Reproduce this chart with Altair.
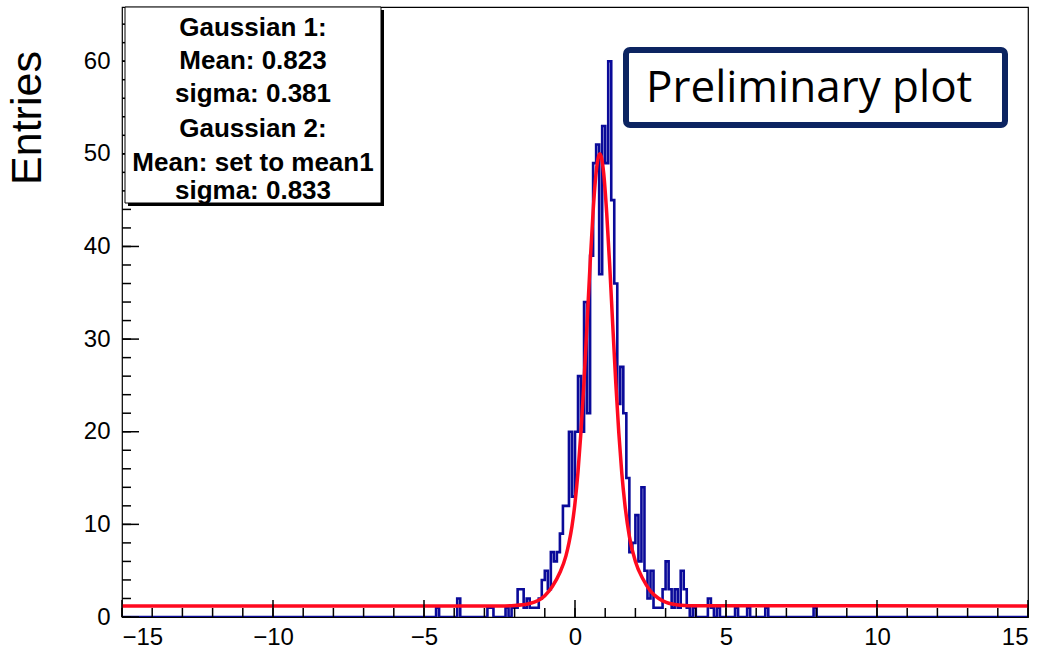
import altair as alt
import pandas as pd

# ---------------- data ----------------
# histogram: bins of width 0.1, first non-empty bin starts at -4.6
bin_width = 0.1
first_edge = -4.6
counts = [
    1, 0, 0, 0, 0, 0, 0, 2, 0, 0,          # -4.6 .. -3.7
    0, 0, 0, 0, 0, 0, 0, 1, 1, 0,          # -3.6 .. -2.7
    0, 0, 0, 1, 0, 1, 1, 3, 3, 1,          # -2.6 .. -1.7
    2, 1, 1, 1, 2, 4, 5, 3, 7, 6,          # -1.6 .. -0.7
    7, 9, 12, 12, 20, 13, 20, 26, 20, 34,  # -0.6 .. 0.3
    22, 39, 49, 51, 37, 53, 49, 60, 45, 36,  # 0.4 .. 1.3
    23, 27, 22, 15, 7, 8, 11, 6, 14, 5,    # 1.4 .. 2.3
    2, 5, 1, 1, 1, 3, 6, 3, 1, 3,          # 2.4 .. 3.3
    1, 5, 3, 1, 0, 1, 0, 0, 0, 0,          # 3.4 .. 4.3
    2, 1, 0, 1, 0, 0, 0, 0, 0, 1,          # 4.4 .. 5.3
    0, 0, 0, 1, 0, 0, 0, 0, 0, 1,          # 5.4 .. 6.3
    0, 0, 0, 0, 0, 0, 0, 0, 0, 0,          # 6.4 .. 7.3
    0, 0, 0, 0, 0, 1,                      # 7.4 .. 7.9
]
x_min, x_max = -15, 15

# fitted double-gaussian curve
fit_x = [-15, -3.0, -2.5, -2.0, -1.5, -1.0, -0.75, -0.5, -0.3, -0.2, -0.1, 0.0,
         0.1, 0.2, 0.3, 0.4, 0.5, 0.6, 0.7, 0.823, 0.95, 1.05, 1.15, 1.25, 1.35,
         1.45, 1.55, 1.65, 1.8, 2.0, 2.25, 2.5, 2.75, 3.0, 3.5, 4.0, 15]
fit_y = [1.2, 1.2, 1.2, 1.24, 1.45, 2.3, 3.3, 4.8, 6.6, 8.0, 9.8, 12.3,
         15.7, 20.1, 25.5, 31.7, 38.1, 43.8, 48.0, 50.0, 47.9, 43.6, 37.9, 31.5, 25.3,
         19.9, 15.5, 12.2, 8.7, 6.0, 4.1, 2.8, 2.05, 1.6, 1.27, 1.21, 1.2]

x_major = [-15, -10, -5, 0, 5, 10, 15]
x_minor = list(range(-15, 16))
y_major = [0, 10, 20, 30, 40, 50, 60]
y_minor = list(range(0, 66, 2))
y_top = 65.85

stats_lines = ["Gaussian 1:", "Mean: 0.823", "sigma: 0.381",
               "Gaussian 2:", "Mean: set to mean1", "sigma: 0.833"]
y_title = "Entries"
banner = "Preliminary plot"

# ---------------- build tables ----------------
edges = [round(first_edge + i * bin_width, 2) for i in range(len(counts))]
hx = [x_min] + edges + [round(edges[-1] + bin_width, 2), x_max]
hy = [0] + counts + [0, 0]
hist_df = pd.DataFrame({"x": hx, "y": hy})
fit_df = pd.DataFrame({"x": fit_x, "y": fit_y})
one = pd.DataFrame({"k": [0]})

W, H = 906, 610
x_scale = alt.Scale(domain=[x_min, x_max], nice=False, zero=False)
y_scale = alt.Scale(domain=[0, y_top], nice=False, zero=False)
x_axis = alt.Axis(values=x_major, title=None, labelPadding=8, format="d")
y_axis = alt.Axis(values=y_major, title=None, labelPadding=12, format="d")

hist = alt.Chart(hist_df).mark_line(
    interpolate="step-after", color="#0a0a99", strokeWidth=2.6, clip=True
).encode(
    x=alt.X("x:Q", scale=x_scale, axis=x_axis),
    y=alt.Y("y:Q", scale=y_scale, axis=y_axis),
)

fit = alt.Chart(fit_df).mark_line(
    interpolate="monotone", color="#ff0a1f", strokeWidth=3.5, clip=True
).encode(
    x=alt.X("x:Q", scale=x_scale, axis=x_axis),
    y=alt.Y("y:Q", scale=y_scale, axis=y_axis),
)

def xticks(vals, length):
    return alt.Chart(pd.DataFrame({"x": vals})).mark_rule(color="black", strokeWidth=1.5).encode(
        x=alt.X("x:Q", scale=x_scale, axis=x_axis),
        y=alt.value(H), y2=alt.value(H - length))

def yticks(vals, length):
    return alt.Chart(pd.DataFrame({"y": vals})).mark_rule(color="black", strokeWidth=1.5).encode(
        y=alt.Y("y:Q", scale=y_scale, axis=y_axis),
        x=alt.value(0), x2=alt.value(length))

ticks = [xticks(x_minor, 9), xticks(x_major, 17), yticks(y_minor, 9), yticks(y_major, 17)]

# stats box
shadow = alt.Chart(one).mark_rect(color="black").encode(
    x=alt.value(6), x2=alt.value(262), y=alt.value(3), y2=alt.value(199))
box = alt.Chart(one).mark_rect(fill="white", stroke="black", strokeWidth=1).encode(
    x=alt.value(3), x2=alt.value(259), y=alt.value(0), y2=alt.value(196))
line_baselines = [29, 62, 95, 130, 164, 192]
stat_texts = [
    alt.Chart(one).mark_text(text=t, font="Liberation Sans", fontWeight="bold", fontSize=26,
                             align="center", baseline="alphabetic", color="black").encode(
        x=alt.value(131), y=alt.value(b))
    for t, b in zip(stats_lines, line_baselines)
]

# banner box
banner_box = alt.Chart(one).mark_rect(fill="white", stroke="#0c2461", strokeWidth=6,
                                      cornerRadius=4).encode(
    x=alt.value(504), x2=alt.value(883), y=alt.value(43), y2=alt.value(118))
banner_text = alt.Chart(one).mark_text(text=banner, font="Open Sans", fontSize=44,
                                       align="left", baseline="alphabetic", color="black").encode(
    x=alt.value(524), y=alt.value(95))

title_text = alt.Chart(one).mark_text(text=y_title, font="Liberation Sans", fontSize=43, angle=270,
                                      align="center", baseline="alphabetic", color="black").encode(
    x=alt.value(-81), y=alt.value(111))

chart = alt.layer(
    hist, fit, *ticks, shadow, box, *stat_texts, banner_box, banner_text, title_text
).properties(
    width=W, height=H,
    padding={"left": 122, "top": 7, "right": 15, "bottom": 31},
    autosize=alt.AutoSizeParams(type="none"),
    background="white",
).configure_view(
    stroke="black", strokeWidth=1.2
).configure_axis(
    domain=False, ticks=False, grid=False,
    labelFont="Liberation Sans", labelFontSize=24, labelColor="black",
)

chart.save("out.html", embed_options={"renderer": "svg", "actions": False})
